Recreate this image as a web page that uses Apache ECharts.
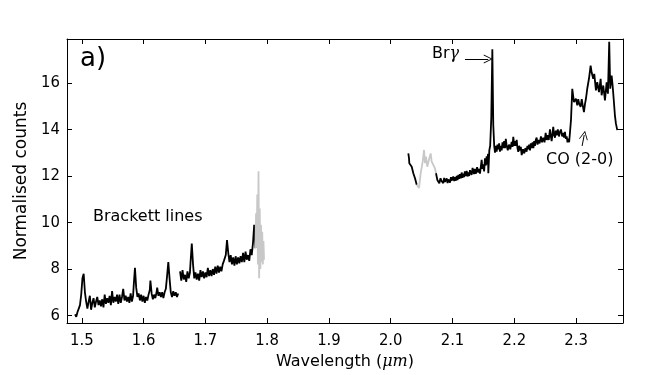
<!DOCTYPE html>
<html>
<head>
<meta charset="utf-8">
<script src="https://cdn.jsdelivr.net/npm/echarts@6.0.0/dist/echarts.min.js"></script>
<style>
  html, body { margin: 0; padding: 0; background: #fff; }
  #chart { width: 663px; height: 375px; }
</style>
</head>
<body>
<div id="chart"></div>
<script>
// tick labels
const xTicks = [1.5, 1.6, 1.7, 1.8, 1.9, 2.0, 2.1, 2.2, 2.3]
const yTicks = [6, 8, 10, 12, 14, 16]

// spectrum pieces, [wavelength (um), normalised counts]
const hBandA = [
  [1.489, 6.05], [1.491, 5.95], [1.493, 6.15], [1.495, 6.3], [1.497, 6.45], [1.499, 6.9],
  [1.501, 7.6], [1.503, 7.8], [1.505, 7.0], [1.507, 6.6], [1.509, 6.3], [1.511, 6.6],
  [1.513, 6.85], [1.515, 6.25], [1.517, 6.55], [1.519, 6.75], [1.521, 6.35], [1.523, 6.6],
  [1.525, 6.8], [1.527, 6.45], [1.529, 6.65], [1.531, 6.4], [1.533, 6.7], [1.535, 6.35],
  [1.537, 6.9], [1.539, 6.5], [1.541, 6.75], [1.543, 6.55], [1.545, 6.85], [1.547, 6.45],
  [1.549, 7.05], [1.551, 6.55], [1.553, 6.8], [1.555, 6.6], [1.557, 6.9], [1.559, 6.5],
  [1.561, 6.9], [1.563, 6.55], [1.565, 6.8], [1.567, 7.15], [1.569, 6.65], [1.571, 6.85],
  [1.573, 6.6], [1.575, 6.8], [1.577, 6.55], [1.579, 6.95], [1.581, 6.6], [1.583, 6.85],
  [1.584, 7.3], [1.586, 8.05], [1.588, 7.2], [1.590, 6.8], [1.592, 6.95], [1.594, 6.65],
  [1.596, 6.9], [1.598, 6.6], [1.600, 6.85], [1.602, 6.55], [1.604, 6.8], [1.606, 6.65],
  [1.608, 6.9], [1.610, 7.1], [1.611, 7.5], [1.613, 6.95], [1.615, 6.7], [1.617, 6.9],
  [1.619, 6.75], [1.621, 7.0], [1.622, 7.2], [1.624, 6.85], [1.626, 7.0], [1.628, 6.8],
  [1.630, 7.0], [1.632, 6.75], [1.634, 7.0], [1.636, 7.15], [1.638, 7.7], [1.640, 8.3],
  [1.642, 7.6], [1.644, 7.0], [1.646, 6.8], [1.648, 7.05], [1.650, 6.85], [1.652, 7.0],
  [1.654, 6.8], [1.656, 6.95]
]
const hBandB = [
  [1.659, 7.9], [1.661, 7.5], [1.663, 7.95], [1.665, 7.55], [1.667, 7.75], [1.669, 7.45],
  [1.671, 7.9], [1.673, 7.6], [1.675, 7.85], [1.676, 8.3], [1.678, 9.1], [1.680, 8.2],
  [1.682, 7.6], [1.684, 7.85], [1.686, 7.55], [1.688, 7.8], [1.690, 7.5], [1.692, 7.95],
  [1.694, 7.65], [1.696, 7.9], [1.698, 7.6], [1.700, 7.85], [1.702, 7.65], [1.704, 8.05],
  [1.706, 7.7], [1.708, 7.95], [1.710, 7.7], [1.712, 8.0], [1.714, 7.75], [1.716, 8.1],
  [1.718, 7.8], [1.720, 8.15], [1.722, 7.85], [1.724, 8.1], [1.726, 7.9], [1.728, 8.2],
  [1.730, 8.35], [1.733, 8.6], [1.735, 9.25], [1.737, 8.7], [1.739, 8.3], [1.741, 8.6],
  [1.743, 8.2], [1.745, 8.5], [1.747, 8.15], [1.749, 8.55], [1.751, 8.2], [1.753, 8.5],
  [1.755, 8.25], [1.757, 8.55], [1.759, 8.3], [1.761, 8.7], [1.763, 8.3], [1.765, 8.75],
  [1.767, 8.4], [1.769, 8.6], [1.771, 8.35], [1.773, 8.85], [1.775, 8.6], [1.777, 9.1],
  [1.779, 9.9], [1.781, 8.9]
]
const hBandEdge = [
  [1.781, 8.9], [1.782, 10.4], [1.783, 9.0], [1.784, 11.2], [1.785, 8.2], [1.786, 12.2],
  [1.787, 7.6], [1.788, 10.6], [1.789, 8.0], [1.790, 9.9], [1.791, 8.3], [1.792, 9.6],
  [1.793, 8.2], [1.794, 9.2], [1.795, 8.4]
]
const kBandA = [
  [2.0285, 12.97], [2.0296, 12.77], [2.0301, 12.55], [2.0324, 12.6], [2.034, 12.4],
  [2.0366, 12.12], [2.0393, 11.9], [2.0421, 11.62]
]
const kBandTelluric = [
  [2.0421, 11.62], [2.0458, 11.48], [2.0485, 12.12], [2.0518, 12.62], [2.0539, 13.12],
  [2.0555, 12.55], [2.0571, 12.83], [2.0592, 12.4], [2.0625, 12.76], [2.0647, 12.97],
  [2.0663, 12.62], [2.0689, 12.55], [2.0717, 12.33], [2.0733, 12.12]
]
const kBandB = [
  [2.0733, 12.12], [2.0755, 11.83], [2.0787, 11.69], [2.0806, 11.9], [2.0825, 11.78],
  [2.0851, 11.69], [2.0865, 11.92], [2.0878, 11.75], [2.0906, 11.9], [2.0920, 11.7],
  [2.0933, 11.85], [2.096, 11.72], [2.0975, 11.95], [2.0987, 11.8], [2.1013, 11.98],
  [2.1027, 11.78], [2.104, 11.95], [2.1055, 11.8], [2.1068, 12.0], [2.1082, 11.82],
  [2.1095, 12.05], [2.1108, 11.88], [2.1121, 12.08], [2.1135, 11.9], [2.1148, 12.15],
  [2.1162, 11.92], [2.1175, 12.1], [2.1188, 11.95], [2.12, 12.2], [2.1215, 12.0],
  [2.123, 12.22], [2.1243, 11.98], [2.1256, 12.15], [2.127, 12.0], [2.1283, 12.25],
  [2.131, 12.05], [2.1325, 12.35], [2.1348, 12.08], [2.1362, 12.3], [2.138, 12.1],
  [2.1398, 12.38], [2.1418, 12.15], [2.1432, 12.3], [2.1445, 12.1], [2.1472, 12.69],
  [2.1485, 12.3], [2.1499, 12.5], [2.1512, 12.2], [2.1526, 12.76], [2.154, 12.45],
  [2.1553, 12.85], [2.1565, 12.5], [2.1575, 12.95], [2.158, 12.12], [2.1596, 13.1],
  [2.161, 13.3], [2.1628, 14.5], [2.1645, 17.45], [2.166, 14.2], [2.1675, 13.3],
  [2.1688, 13.0], [2.1702, 13.3], [2.1715, 13.05], [2.1728, 13.35], [2.1741, 13.15],
  [2.1755, 13.4], [2.1768, 13.05], [2.1782, 13.3], [2.1796, 13.1], [2.1809, 13.45],
  [2.1822, 13.2], [2.1836, 13.5], [2.185, 13.2], [2.1863, 13.6], [2.1877, 13.3],
  [2.1895, 13.1], [2.1914, 13.35], [2.1935, 13.15], [2.1958, 13.47], [2.1972, 13.25],
  [2.1984, 13.68], [2.2, 13.3], [2.2011, 13.5], [2.2025, 13.3], [2.2039, 13.55],
  [2.2052, 13.2], [2.2065, 13.04], [2.2079, 13.3], [2.2092, 13.1], [2.2106, 13.25],
  [2.212, 12.9], [2.2142, 13.15], [2.2162, 12.97], [2.218, 13.2], [2.22, 13.05],
  [2.2213, 13.3], [2.2227, 13.15], [2.2241, 13.35], [2.2255, 13.1], [2.2268, 13.4],
  [2.2282, 13.2], [2.2296, 13.45], [2.231, 13.2], [2.2322, 13.5], [2.2335, 13.3],
  [2.2348, 13.55], [2.2362, 13.65], [2.2376, 13.35], [2.2389, 13.55], [2.241, 13.4],
  [2.2432, 13.7], [2.245, 13.45], [2.247, 13.65], [2.249, 13.45], [2.2508, 13.85],
  [2.2525, 13.55], [2.2541, 13.75], [2.2558, 13.55], [2.2578, 14.0], [2.2592, 13.7],
  [2.2605, 13.5], [2.2618, 13.8], [2.2631, 14.11], [2.2645, 13.75], [2.2659, 13.65],
  [2.2672, 13.95], [2.2686, 13.75], [2.2705, 14.0], [2.2723, 13.7], [2.274, 13.9],
  [2.2756, 14.0], [2.2775, 13.7], [2.2793, 13.85], [2.2806, 13.65], [2.282, 13.9],
  [2.2834, 13.6], [2.2848, 13.7], [2.2862, 13.45], [2.2874, 13.6], [2.2888, 13.45],
  [2.2901, 13.85], [2.2918, 14.4], [2.2939, 15.75], [2.2945, 15.82], [2.2966, 15.18],
  [2.2998, 15.32], [2.302, 15.04], [2.3035, 15.3], [2.3052, 15.1], [2.3074, 14.97],
  [2.3092, 15.3], [2.3107, 15.05], [2.3128, 14.75], [2.3145, 15.1], [2.316, 15.32],
  [2.3181, 15.75], [2.3209, 16.18], [2.3236, 16.75], [2.3252, 16.46], [2.3278, 16.18],
  [2.3295, 16.39], [2.3322, 15.68], [2.3343, 16.03], [2.3371, 15.61], [2.3398, 16.18],
  [2.3414, 15.47], [2.344, 15.89], [2.3468, 15.25], [2.3495, 16.03], [2.3516, 15.54],
  [2.3537, 17.77], [2.3553, 15.75], [2.3576, 16.32], [2.3592, 15.89], [2.3613, 15.18],
  [2.3629, 14.61], [2.3645, 14.26], [2.3667, 13.97]
]

// arrows for the labelled lines
const brGammaArrow = [[2.1202, 17.03], [2.1579, 17.03]]
const coArrow = [[2.3098, 13.29], [2.3132, 13.76]]

const FONT = 'DejaVu Sans'
const NARROW = 'DejaVu Sans Condensed'
const xMin = 1.476, xMax = 2.376
const yMin = 5.68, yMax = 17.89
const openHead = 'path://M0,10L5,0L10,10L9,10L5,2L1,10Z'

const chart = echarts.init(document.getElementById('chart'))

const axisCommon = {
  axisLine: { show: true, onZero: false, lineStyle: { color: '#000', width: 1 } },
  splitLine: { show: false }
}

function lineSeries (data, color) {
  return {
    type: 'line',
    data: data,
    showSymbol: false,
    symbol: 'none',
    lineStyle: { color: color, width: 1.8 },
    silent: true
  }
}

const series = [
  lineSeries(hBandA, '#000'),
  lineSeries(hBandB, '#000'),
  lineSeries(hBandEdge, '#c8c8c8'),
  lineSeries(kBandA, '#000'),
  lineSeries(kBandTelluric, '#c8c8c8'),
  lineSeries(kBandB, '#000')
]
series[5].markLine = {
  silent: true,
  symbol: ['none', openHead],
  symbolSize: 9,
  label: { show: false },
  lineStyle: { color: '#000', width: 1, type: 'solid' },
  data: [
    [{ coord: brGammaArrow[0] }, { coord: brGammaArrow[1] }],
    [{ coord: coArrow[0] }, { coord: coArrow[1] }]
  ]
}

chart.setOption({
  animation: false,
  textStyle: { fontFamily: FONT },
  grid: { left: 67, right: 40, top: 39, bottom: 51 },
  xAxis: [{
    ...axisCommon,
    type: 'value', position: 'bottom', min: xMin, max: xMax,
    name: 'Wavelength ({i|μm})',
    nameLocation: 'middle',
    nameGap: 31,
    nameTextStyle: {
      fontFamily: FONT, fontSize: 16, color: '#000',
      rich: { i: { fontFamily: 'DejaVu Serif', fontStyle: 'italic', fontSize: 16, color: '#000' } }
    },
    axisTick: { show: true, inside: true, length: 5, customValues: xTicks, lineStyle: { color: '#000' } },
    axisLabel: {
      customValues: xTicks, margin: 9, fontFamily: NARROW, fontSize: 16.5, color: '#000',
      formatter: v => v.toFixed(1)
    }
  }, {
    ...axisCommon,
    type: 'value', position: 'top', min: xMin, max: xMax,
    axisTick: { show: true, inside: true, length: 5, customValues: xTicks, lineStyle: { color: '#000' } },
    axisLabel: { show: false }
  }],
  yAxis: [{
    ...axisCommon,
    type: 'value', position: 'left', min: yMin, max: yMax,
    name: 'Normalised counts',
    nameLocation: 'middle',
    nameGap: 30,
    nameTextStyle: { fontFamily: FONT, fontSize: 17, color: '#000' },
    axisTick: { show: true, inside: true, length: 5, customValues: yTicks, lineStyle: { color: '#000' } },
    axisLabel: { customValues: yTicks, margin: 7, fontFamily: NARROW, fontSize: 16.5, color: '#000' }
  }, {
    ...axisCommon,
    type: 'value', position: 'right', min: yMin, max: yMax,
    axisTick: { show: true, inside: true, length: 5, customValues: yTicks, lineStyle: { color: '#000' } },
    axisLabel: { show: false }
  }],
  graphic: [
    { type: 'text', left: 80, top: 46, style: { text: 'a)', font: '26px "DejaVu Sans"', fill: '#000' } },
    { type: 'text', left: 93, top: 209, style: { text: 'Brackett lines', font: '16px "DejaVu Sans"', fill: '#000' } },
    {
      type: 'text', left: 432, top: 46,
      style: {
        text: 'Br{g|γ}', font: '16px "DejaVu Sans"', fill: '#000',
        rich: { g: { fontFamily: 'DejaVu Serif', fontStyle: 'italic', fontSize: 16, fill: '#000' } }
      }
    },
    { type: 'text', left: 546, top: 152, style: { text: 'CO (2-0)', font: '16px "DejaVu Sans"', fill: '#000' } }
  ],
  series: series
})
</script>
</body>
</html>
